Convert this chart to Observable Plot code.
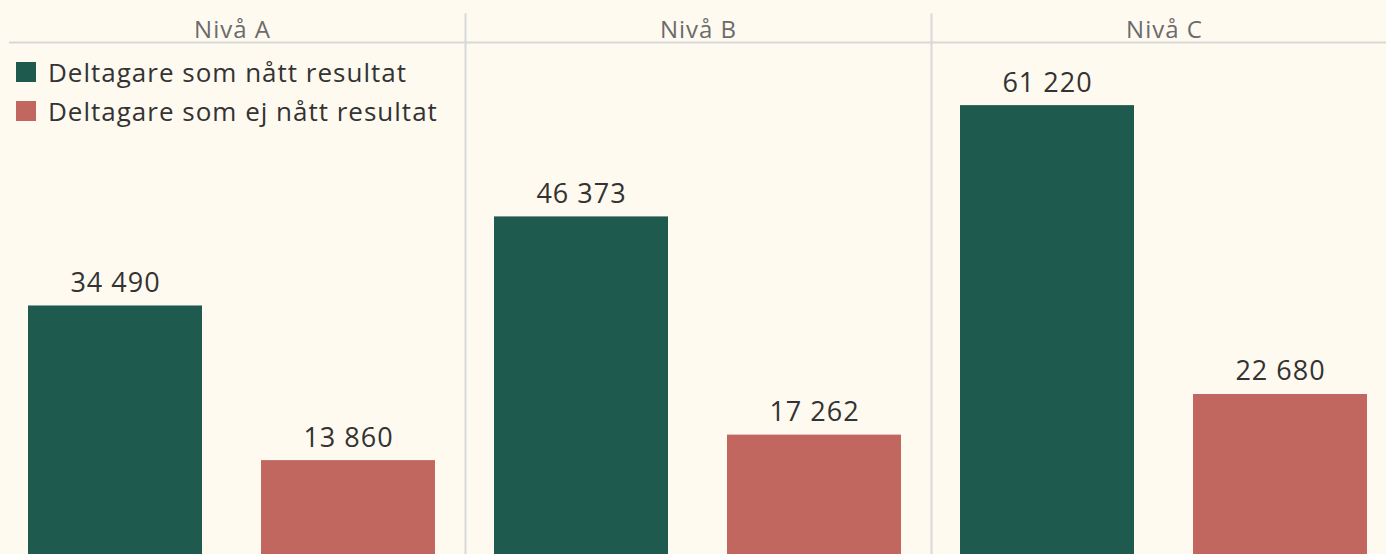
<!DOCTYPE html>
<html>
<head>
<meta charset="utf-8">
<script src="https://cdn.jsdelivr.net/npm/d3@7"></script>
<script src="https://cdn.jsdelivr.net/npm/@observablehq/plot@0.6"></script>
<style>
  html, body { margin: 0; padding: 0; background: #fffaf0; overflow: hidden; }
  #wrap { position: relative; width: 1386px; height: 554px; overflow: hidden; }
  #legend { position: absolute; left: 16px; top: 52px; font-family: "Open Sans", sans-serif; font-size: 26px; letter-spacing: 1px; color: #333; }
  .item { display: flex; align-items: center; height: 39px; white-space: nowrap; }
  .sw { width: 20px; height: 20px; margin-right: 12px; flex: none; }
</style>
</head>
<body>
<div id="wrap"><div id="legend"></div></div>
<script>
const levels = ["Nivå A", "Nivå B", "Nivå C"];
const series = ["Deltagare som nått resultat", "Deltagare som ej nått resultat"];
const reached = [34490, 46373, 61220];
const notReached = [13860, 17262, 22680];
const colors = ["#1f5a4f", "#c1675f"];
const yMax = 69640;

const data = levels.flatMap((l, i) => [
  {level: l, series: series[0], value: reached[i]},
  {level: l, series: series[1], value: notReached[i]}
]);
const fmt = v => d3.format(",")(v).replace(/,/g, " ");
const lineColor = "#d8d8d8";

const chart = Plot.plot({
  width: 1386,
  height: 564,
  marginLeft: -1,
  marginRight: -11,
  marginTop: 42,
  marginBottom: 0,
  style: {background: "transparent", fontFamily: "Open Sans, sans-serif", overflow: "visible", letterSpacing: "1px"},
  fx: {domain: levels, padding: 0, label: null},
  x: {domain: series, paddingInner: 0.2532, paddingOuter: 0.1245, axis: null},
  y: {domain: [0, yMax], axis: null},
  color: {domain: series, range: colors},
  marks: [
    Plot.axisFx({anchor: "top", tickSize: 0, tickPadding: 5, fontSize: 24, fill: "#6b6b6b", label: null}),
    Plot.frame({anchor: "right", stroke: lineColor, strokeWidth: 2, insetTop: -28}),
    Plot.ruleY([{level: levels[0]}], {fx: "level", y: () => yMax, stroke: lineColor, strokeWidth: 2, insetLeft: 10}),
    Plot.ruleY(levels.slice(1).map(l => ({level: l})), {fx: "level", y: () => yMax, stroke: lineColor, strokeWidth: 2}),
    Plot.barY(data, {fx: "level", x: "series", y: "value", fill: "series"}),
    Plot.text(data, {fx: "level", x: "series", y: "value", text: d => fmt(d.value), dy: -14, lineAnchor: "bottom", fontSize: 27, fill: "#333"})
  ]
});
const wrap = document.getElementById("wrap");
wrap.insertBefore(chart, wrap.firstChild);

const legend = document.getElementById("legend");
series.forEach((s, i) => {
  const item = document.createElement("div");
  item.className = "item";
  const sw = document.createElement("div");
  sw.className = "sw";
  sw.style.background = colors[i];
  const t = document.createElement("span");
  t.textContent = s;
  item.appendChild(sw);
  item.appendChild(t);
  legend.appendChild(item);
});
</script>
</body>
</html>
